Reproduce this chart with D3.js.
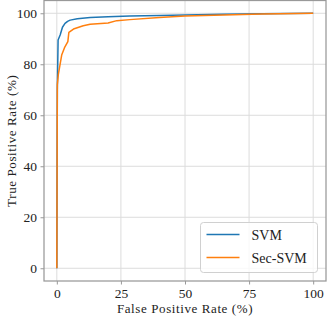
<!DOCTYPE html>
<html>
<head>
<meta charset="utf-8">
<script src="https://cdn.jsdelivr.net/npm/d3@7"></script>
<style>
  body { margin: 0; background: #fff; }
  text { font-family: "Liberation Serif", "DejaVu Serif", serif; fill: #222; }
</style>
</head>
<body>
<script>
// ROC points (FPR %, TPR %)
var svmFpr = [0, 0.2, 0.5, 1.3, 2.2, 3.2, 4.2, 5.2, 8, 13, 20, 28.5, 40, 50, 65, 80, 100];
var svmTpr = [0, 70, 89.5, 91.5, 94.5, 96, 96.8, 97.3, 97.8, 98.3, 98.6, 98.9, 99.1, 99.3, 99.6, 99.8, 100];

var secFpr = [0, 0.2, 0.6, 1.9, 3.0, 4.3, 4.7, 6.5, 10.3, 13, 20, 23.4, 28.5, 40, 50, 65, 80, 100];
var secTpr = [0, 72, 76, 83.6, 86.5, 88.9, 92.5, 93.8, 95.1, 95.7, 96.2, 97.1, 97.5, 98.3, 98.9, 99.3, 99.7, 100];

var seriesNames = ["SVM", "Sec-SVM"];
var seriesColors = ["#1f77b4", "#ff7f0e"];
var xTicks = [0, 25, 50, 75, 100];
var yTicks = [0, 20, 40, 60, 80, 100];

var svgWidth = 327;
var svgHeight = 317;

// plot box in pixels
var margin = { top: 0.5, right: 1, bottom: 36, left: 44 };
var chartWidth = svgWidth - margin.left - margin.right;
var chartHeight = svgHeight - margin.top - margin.bottom;

var svg = d3.select("body")
  .append("svg")
  .attr("width", svgWidth)
  .attr("height", svgHeight);

var chartGroup = svg.append("g")
  .attr("transform", `translate(${margin.left}, ${margin.top})`);

var xScale = d3.scaleLinear().domain([-5, 105]).range([0, chartWidth]);
var yScale = d3.scaleLinear().domain([-5, 105]).range([chartHeight, 0]);

// grid
chartGroup.append("g")
  .selectAll("line.gx")
  .data(xTicks)
  .enter().append("line")
  .attr("x1", d => xScale(d)).attr("x2", d => xScale(d))
  .attr("y1", 0).attr("y2", chartHeight)
  .attr("stroke", "#dcdcdc").attr("stroke-width", 1);

chartGroup.append("g")
  .selectAll("line.gy")
  .data(yTicks)
  .enter().append("line")
  .attr("x1", 0).attr("x2", chartWidth)
  .attr("y1", d => yScale(d)).attr("y2", d => yScale(d))
  .attr("stroke", "#dcdcdc").attr("stroke-width", 1);

// curves
var curves = [
  d3.zip(svmFpr, svmTpr),
  d3.zip(secFpr, secTpr)
];

var drawLine = d3.line()
  .x(d => xScale(d[0]))
  .y(d => yScale(d[1]));

curves.forEach(function(pts, i) {
  chartGroup.append("path")
    .datum(pts)
    .attr("d", drawLine)
    .attr("fill", "none")
    .attr("stroke", seriesColors[i])
    .attr("stroke-width", 1.5)
    .attr("stroke-linejoin", "round");
});

// axes
var bottomAxis = d3.axisBottom(xScale).tickValues(xTicks).tickSize(3.5).tickPadding(3.5);
var leftAxis = d3.axisLeft(yScale).tickValues(yTicks).tickSize(3.5).tickPadding(3.5);

var gx = chartGroup.append("g")
  .attr("transform", `translate(0, ${chartHeight})`)
  .call(bottomAxis);
var gy = chartGroup.append("g").call(leftAxis);

[gx, gy].forEach(function(g) {
  g.select(".domain").remove();
  g.selectAll(".tick line").attr("stroke", "#999").attr("stroke-width", 1);
  g.selectAll(".tick text")
    .attr("fill", "#222")
    .style("font-family", '"Liberation Serif", "DejaVu Serif", serif')
    .style("font-size", "13.5px");
});

// spines
chartGroup.append("rect")
  .attr("x", 0).attr("y", 0)
  .attr("width", chartWidth).attr("height", chartHeight)
  .attr("fill", "none")
  .attr("stroke", "#999")
  .attr("stroke-width", 1.25);

// axis titles
chartGroup.append("text")
  .attr("transform", `translate(${chartWidth / 2}, ${chartHeight + 32})`)
  .attr("text-anchor", "middle")
  .style("font-size", "13px")
  .style("letter-spacing", "0.6px")
  .text("False Positive Rate (%)");

chartGroup.append("text")
  .attr("transform", `translate(${-28}, ${chartHeight / 2}) rotate(270)`)
  .attr("text-anchor", "middle")
  .style("font-size", "13px")
  .style("letter-spacing", "0.6px")
  .text("True Positive Rate (%)");

// legend
var legend = svg.append("g").attr("transform", "translate(200.5, 222.5)");
legend.append("rect")
  .attr("width", 117).attr("height", 50)
  .attr("rx", 3)
  .attr("fill", "#fff").attr("fill-opacity", 0.8)
  .attr("stroke", "#d0d0d0").attr("stroke-width", 1);

seriesNames.forEach(function(name, i) {
  var y = 12 + i * 23;
  legend.append("line")
    .attr("x1", 6).attr("x2", 39)
    .attr("y1", y).attr("y2", y)
    .attr("stroke", seriesColors[i]).attr("stroke-width", 1.5);
  legend.append("text")
    .attr("x", 51).attr("y", y + 5)
    .style("font-size", "14px")
    .text(name);
});
</script>
</body>
</html>
